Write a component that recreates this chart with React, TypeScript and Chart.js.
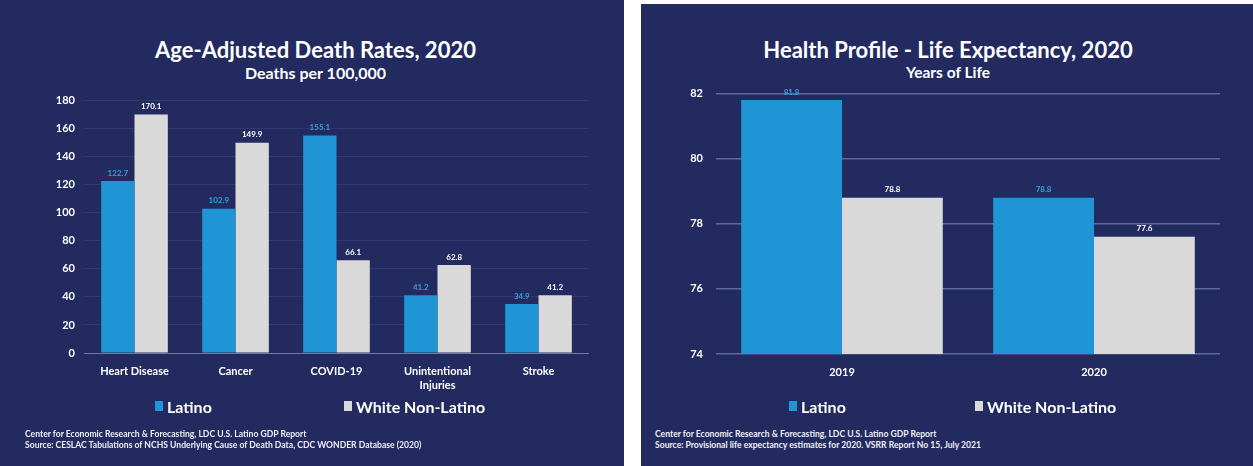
import React, { useEffect, useRef } from 'react';
import { Chart, registerables } from 'chart.js';

Chart.register(...registerables);

// ---------- Data ----------
const deathCategories: (string | string[])[] = ['Heart Disease', 'Cancer', 'COVID-19', ['Unintentional', 'Injuries'], 'Stroke'];
const deathLatino = [122.7, 102.9, 155.1, 41.2, 34.9];
const deathWhite = [170.1, 149.9, 66.1, 62.8, 41.2];
const deathAxis = { min: 0, max: 180, step: 20 };

const lifeCategories = ['2019', '2020'];
const lifeLatino = [81.8, 78.8];
const lifeWhite = [78.8, 77.6];
const lifeAxis = { min: 74, max: 82, step: 2 };

const seriesNames = ['Latino', 'White Non-Latino'];

// ---------- Styles ----------
const NAVY = '#222a5f';
const BLUE = '#1f95d5';
const GREY = '#d9d9d9';
const BLUE_LABEL = '#3a9fdc';
const FONT = 'Lato, "Open Sans", sans-serif';

const valueLabels = {
  id: 'valueLabels',
  afterDatasetsDraw(chart: any) {
    const ctx = chart.ctx;
    chart.data.datasets.forEach((ds: any, i: number) => {
      const meta = chart.getDatasetMeta(i);
      meta.data.forEach((el: any, j: number) => {
        ctx.save();
        ctx.font = `bold 8px ${FONT}`;
        ctx.fillStyle = ds.labelColor;
        ctx.textAlign = 'center';
        ctx.textBaseline = 'bottom';
        ctx.fillText(Number(ds.data[j]).toFixed(1), el.x, el.y - 4);
        ctx.restore();
      });
    });
  },
};

type ChartProps = {
  labels: any[];
  latino: number[];
  white: number[];
  axis: { min: number; max: number; step: number };
  catPct: number;
  yWidth: number;
  xHeight: number;
  padTop: number;
  padRight: number;
  tickPadY: number;
  gridColor: (v: number) => string;
  gridWidth: number;
  width: number;
  height: number;
};

function BarChart(p: ChartProps) {
  const ref = useRef<HTMLCanvasElement>(null);
  useEffect(() => {
    if (!ref.current) return;
    const chart = new Chart(ref.current, {
      type: 'bar',
      data: {
        labels: p.labels,
        datasets: [
          { label: seriesNames[0], data: p.latino, backgroundColor: BLUE, labelColor: BLUE_LABEL } as any,
          { label: seriesNames[1], data: p.white, backgroundColor: GREY, labelColor: '#ffffff' } as any,
        ],
      },
      options: {
        animation: false,
        responsive: false,
        maintainAspectRatio: false,
        events: [],
        layout: { padding: { top: p.padTop, right: p.padRight, bottom: 0, left: 0 } },
        datasets: { bar: { categoryPercentage: p.catPct, barPercentage: 1.0 } },
        plugins: { legend: { display: false }, title: { display: false }, tooltip: { enabled: false } },
        scales: {
          x: {
            grid: { display: false },
            border: { display: false },
            ticks: { color: '#ffffff', font: { family: FONT, size: 11, weight: 'bold', lineHeight: 1.3 }, padding: 3, maxRotation: 0, autoSkip: false },
            afterFit: (s: any) => { s.height = p.xHeight; },
          },
          y: {
            min: p.axis.min,
            max: p.axis.max,
            grid: {
              drawTicks: false,
              color: (c: any) => p.gridColor(c.tick ? c.tick.value : 0),
              lineWidth: p.gridWidth,
            },
            border: { display: false },
            ticks: { stepSize: p.axis.step, color: '#ffffff', font: { family: FONT, size: 11, weight: 'bold' }, padding: p.tickPadY },
            afterFit: (s: any) => { s.width = p.yWidth; },
          },
        },
      } as any,
      plugins: [valueLabels],
    });
    return () => chart.destroy();
  }, []);
  return <canvas ref={ref} width={p.width} height={p.height} style={{ width: p.width, height: p.height, display: 'block' }} />;
}

function Legend({ items }: { items: { x: number; y: number; color: string; text: string }[] }) {
  return (
    <>
      {items.map((it, i) => (
        <div key={i} style={{ position: 'absolute', left: it.x, top: it.y - 10, height: 20, display: 'flex', alignItems: 'center', color: '#fff', fontFamily: FONT, fontWeight: 700, fontSize: 16, whiteSpace: 'nowrap' }}>
          <span style={{ display: 'inline-block', width: 8, height: 10, background: it.color, marginRight: 4 }} />
          {it.text}
        </div>
      ))}
    </>
  );
}

function Notes({ x, y, lines }: { x: number; y: number; lines: string[] }) {
  return (
    <div style={{ position: 'absolute', left: x, top: y, color: '#eeeef4', fontFamily: FONT, fontWeight: 700, fontSize: 8.6, lineHeight: '11px', whiteSpace: 'nowrap' }}>
      {lines.map((l, i) => <div key={i}>{l}</div>)}
    </div>
  );
}

const titleStyle: React.CSSProperties = { position: 'absolute', left: 0, textAlign: 'center', color: '#fff', fontFamily: FONT, fontWeight: 700, whiteSpace: 'nowrap' };

export default function App() {
  return (
    <div style={{ position: 'fixed', left: 0, top: 0, width: 1253, height: 466, background: '#ffffff', overflow: 'hidden' }}>
      {/* Left panel */}
      <div style={{ position: 'absolute', left: 0, top: 0, width: 624, height: 466, background: NAVY }}>
        <div style={{ ...titleStyle, top: 37, width: 631, fontSize: 22, lineHeight: '26px' }}>Age-Adjusted Death Rates, 2020</div>
        <div style={{ ...titleStyle, top: 63, width: 631, fontSize: 16, lineHeight: '19px' }}>Deaths per 100,000</div>
        <div style={{ position: 'absolute', left: 20, top: 85 }}>
          <BarChart
            labels={deathCategories}
            latino={deathLatino}
            white={deathWhite}
            axis={deathAxis}
            catPct={0.66}
            yWidth={64}
            xHeight={47}
            padTop={13}
            padRight={21}
            tickPadY={9}
            gridColor={(v) => (v === 0 ? 'rgba(170,176,205,0.6)' : 'rgba(255,255,255,0.07)')}
            gridWidth={1}
            width={590}
            height={315}
          />
        </div>
        <Legend items={[
          { x: 155, y: 406, color: BLUE, text: seriesNames[0] },
          { x: 344, y: 406, color: GREY, text: seriesNames[1] },
        ]} />
        <Notes x={25} y={429} lines={[
          'Center for Economic Research & Forecasting, LDC U.S. Latino GDP Report',
          'Source: CESLAC Tabulations of NCHS Underlying Cause of Death Data, CDC WONDER Database (2020)',
        ]} />
      </div>

      {/* Right panel */}
      <div style={{ position: 'absolute', left: 641, top: 4, width: 612, height: 462, background: NAVY }}>
        <div style={{ ...titleStyle, top: 33, width: 614, fontSize: 22, lineHeight: '26px' }}>Health Profile - Life Expectancy, 2020</div>
        <div style={{ ...titleStyle, top: 59, width: 614, fontSize: 15.5, lineHeight: '19px' }}>Years of Life</div>
        <div style={{ position: 'absolute', left: 10, top: 70 }}>
          <BarChart
            labels={lifeCategories}
            latino={lifeLatino}
            white={lifeWhite}
            axis={lifeAxis}
            catPct={0.8}
            yWidth={65}
            xHeight={50}
            padTop={16}
            padRight={26}
            tickPadY={13}
            gridColor={() => 'rgba(110,125,190,0.75)'}
            gridWidth={1.5}
            width={595}
            height={330}
          />
        </div>
        <Legend items={[
          { x: 148, y: 402, color: BLUE, text: seriesNames[0] },
          { x: 334, y: 402, color: GREY, text: seriesNames[1] },
        ]} />
        <Notes x={14} y={425} lines={[
          'Center for Economic Research & Forecasting, LDC U.S. Latino GDP Report',
          'Source: Provisional life expectancy estimates for 2020. VSRR Report No 15, July 2021',
        ]} />
      </div>
    </div>
  );
}
